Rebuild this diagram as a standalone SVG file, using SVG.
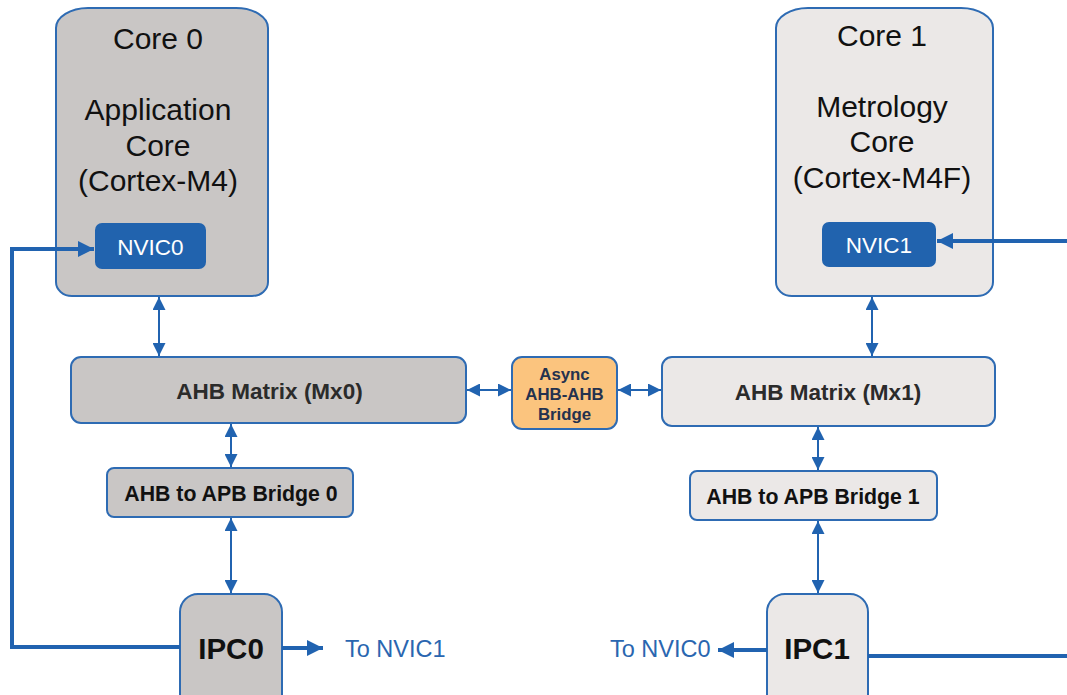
<svg xmlns="http://www.w3.org/2000/svg" width="1067" height="695" viewBox="0 0 1067 695">
<defs>
<style>
.dark{fill:#c9c6c5;stroke:#2e6bb3;stroke-width:2}
.light{fill:#ebe8e7;stroke:#2e6bb3;stroke-width:2}
.nvic{fill:#2163ae}
.big{font-family:"Liberation Sans",Arial,sans-serif;font-size:30px;fill:#111;text-anchor:middle}
.nv{font-family:"Liberation Sans",Arial,sans-serif;font-size:22.5px;fill:#fff;text-anchor:middle}
.bx{font-family:"Liberation Sans",Arial,sans-serif;font-size:22.5px;font-weight:bold;fill:#2b2b2b;text-anchor:middle}
.br{font-family:"Liberation Sans",Arial,sans-serif;font-size:21.3px;font-weight:bold;fill:#111;text-anchor:middle}
.as{font-family:"Liberation Sans",Arial,sans-serif;font-size:16.8px;font-weight:bold;fill:#24324e;text-anchor:middle}
.ipc{font-family:"Liberation Sans",Arial,sans-serif;font-size:29.5px;font-weight:bold;fill:#111;text-anchor:middle}
.to{font-family:"Liberation Sans",Arial,sans-serif;font-size:23.5px;fill:#2a66b0}
.thin{stroke:#2163b0;stroke-width:2;fill:none}
.thick{stroke:#2163b0;stroke-width:4;fill:none}
</style>
<marker id="a" viewBox="0 0 10 10" refX="10" refY="5" markerWidth="6.5" markerHeight="6.5" markerUnits="strokeWidth" orient="auto-start-reverse"><path d="M0,0 L10,5 L0,10 Z" fill="#2163b0"/></marker>
<marker id="b" viewBox="0 0 10 10" refX="10" refY="5" markerWidth="4" markerHeight="4" markerUnits="strokeWidth" orient="auto-start-reverse"><path d="M0,0 L10,5 L0,10 Z" fill="#2163b0"/></marker>
</defs>
<rect width="1067" height="695" fill="#fff"/>

<g id="core0">
<path class="dark" d="M56,28 A32,20 0 0 1 88,8 L236,8 A32,20 0 0 1 268,28 L268,282 A16,14 0 0 1 252,296 L72,296 A16,14 0 0 1 56,282 Z"/>
<text class="big" x="158" y="49">Core 0</text>
<text class="big" x="158" y="120">Application</text>
<text class="big" x="158" y="156">Core</text>
<text class="big" x="158" y="191">(Cortex-M4)</text>
</g>
<g id="nvic0">
<rect class="nvic" x="95" y="223" width="111" height="46" rx="7"/>
<text class="nv" x="150.5" y="255">NVIC0</text>
</g>

<g id="core1">
<path class="light" d="M776,28 A32,20 0 0 1 808,8 L961,8 A32,20 0 0 1 993,28 L993,282 A16,14 0 0 1 977,296 L792,296 A16,14 0 0 1 776,282 Z"/>
<text class="big" x="882" y="46">Core 1</text>
<text class="big" x="882" y="117">Metrology</text>
<text class="big" x="882" y="152">Core</text>
<text class="big" x="882" y="188">(Cortex-M4F)</text>
</g>
<g id="nvic1">
<rect class="nvic" x="822" y="222" width="114" height="45" rx="7"/>
<text class="nv" x="879" y="253">NVIC1</text>
</g>

<g id="mx0">
<rect class="dark" x="71" y="357" width="395" height="66" rx="10"/>
<text class="bx" x="269.5" y="399">AHB Matrix (Mx0)</text>
</g>
<g id="async">
<rect x="512" y="357" width="105" height="72" rx="10" fill="#fbc47e" stroke="#2e6bb3" stroke-width="2"/>
<text class="as" x="564.5" y="380">Async</text>
<text class="as" x="564.5" y="400">AHB-AHB</text>
<text class="as" x="564.5" y="420">Bridge</text>
</g>
<g id="mx1">
<rect class="light" x="662" y="357" width="333" height="69" rx="10"/>
<text class="bx" x="828" y="400">AHB Matrix (Mx1)</text>
</g>
<g id="bridge0">
<rect class="dark" x="107" y="468" width="246" height="49" rx="7"/>
<text class="br" x="231" y="501">AHB to APB Bridge 0</text>
</g>
<g id="bridge1">
<rect class="light" x="690" y="471" width="247" height="49" rx="7"/>
<text class="br" x="813" y="504">AHB to APB Bridge 1</text>
</g>
<g id="ipc0">
<rect class="dark" x="180" y="594" width="102" height="120" rx="18"/>
<text class="ipc" x="231" y="659">IPC0</text>
</g>
<g id="ipc1">
<rect class="light" x="767" y="594" width="101" height="120" rx="18"/>
<text class="ipc" x="817" y="659">IPC1</text>
</g>

<g id="connectors">
<line class="thin" x1="159" y1="297" x2="159" y2="356" marker-start="url(#a)" marker-end="url(#a)"/>
<line class="thin" x1="231" y1="424" x2="231" y2="467" marker-start="url(#a)" marker-end="url(#a)"/>
<line class="thin" x1="231" y1="518" x2="231" y2="593" marker-start="url(#a)" marker-end="url(#a)"/>
<line class="thin" x1="467" y1="390" x2="511" y2="390" marker-start="url(#a)" marker-end="url(#a)"/>
<line class="thin" x1="618" y1="390" x2="661" y2="390" marker-start="url(#a)" marker-end="url(#a)"/>
<line class="thin" x1="872" y1="297" x2="872" y2="356" marker-start="url(#a)" marker-end="url(#a)"/>
<line class="thin" x1="818" y1="427" x2="818" y2="470" marker-start="url(#a)" marker-end="url(#a)"/>
<line class="thin" x1="818" y1="521" x2="818" y2="593" marker-start="url(#a)" marker-end="url(#a)"/>
<path class="thick" d="M180,647 L12,647 L12,249 L94,249" marker-end="url(#b)"/>
<line class="thick" x1="282" y1="648" x2="323" y2="648" marker-end="url(#b)"/>
<line class="thick" x1="767" y1="650" x2="718" y2="650" marker-end="url(#b)"/>
<line class="thick" x1="868" y1="656" x2="1067" y2="656"/>
<line class="thick" x1="1067" y1="241" x2="937" y2="241" marker-end="url(#b)"/>
</g>
<text class="to" x="345" y="657">To NVIC1</text>
<text class="to" x="610" y="657">To NVIC0</text>
</svg>
